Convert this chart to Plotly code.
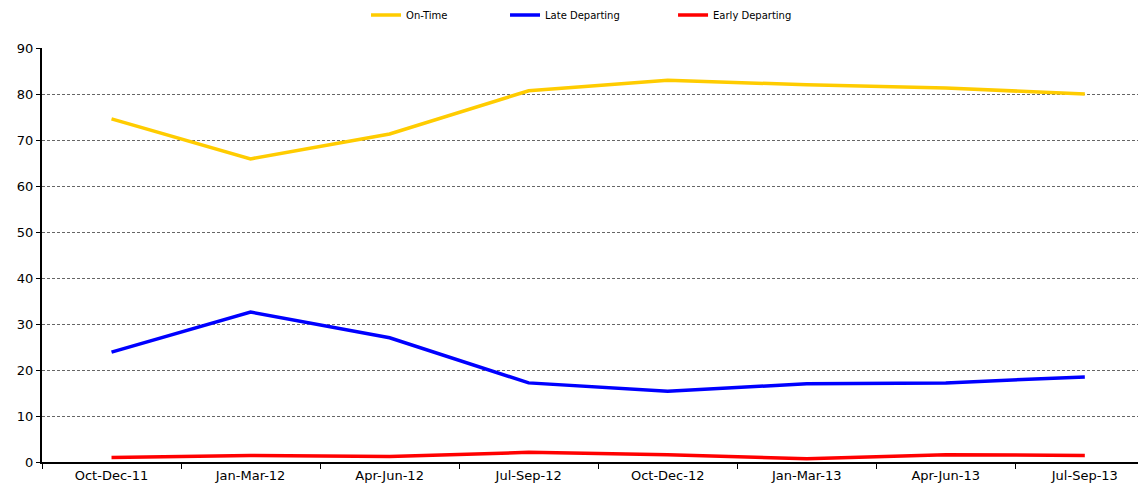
import plotly.graph_objects as go

categories = ["Oct-Dec-11", "Jan-Mar-12", "Apr-Jun-12", "Jul-Sep-12",
              "Oct-Dec-12", "Jan-Mar-13", "Apr-Jun-13", "Jul-Sep-13"]
on_time = [74.6, 65.9, 71.3, 80.7, 83.0, 82.0, 81.3, 80.0]
late_departing = [23.9, 32.6, 27.0, 17.2, 15.4, 17.0, 17.2, 18.5]
early_departing = [1.0, 1.4, 1.2, 2.1, 1.6, 0.7, 1.6, 1.4]

series = [
    ("On-Time", on_time, "#FFCC00", "legend", 0.2935),
    ("Late Departing", late_departing, "#0000FF", "legend2", 0.4194),
    ("Early Departing", early_departing, "#FF0000", "legend3", 0.5716),
]

fig = go.Figure()
legend_cfg = {}
for name, vals, color, leg, lx in series:
    fig.add_trace(go.Scatter(x=list(range(len(categories))), y=vals, name=name,
                             mode="lines", line=dict(color=color, width=3.5), legend=leg))
    legend_cfg[leg] = dict(orientation="h", x=lx, xanchor="left", y=1.08, yanchor="middle",
                           font=dict(size=10, family="DejaVu Sans, sans-serif"),
                           itemwidth=30, bgcolor="rgba(0,0,0,0)")

# page body has an 8px default margin; compensate
fig.update_layout(
    width=1138, height=478,
    margin=dict(l=34, r=0, t=40, b=24, autoexpand=False),
    paper_bgcolor="white", plot_bgcolor="white",
    font=dict(family="DejaVu Sans, sans-serif", color="#000000", size=13),
    showlegend=True,
    **legend_cfg,
)

fig.update_xaxes(
    tickmode="array", tickvals=list(range(len(categories))), ticktext=categories,
    range=[-0.5, 7.44], showgrid=False, showline=True, linecolor="black", linewidth=2,
    ticks="", zeroline=False, automargin=False,
)
fig.update_xaxes(minor=dict(tickmode="array", tickvals=[i + 0.5 for i in range(-1, 8)],
                            ticks="outside", ticklen=5, tickcolor="black", tickwidth=1, showgrid=False))

fig.update_yaxes(
    range=[0, 90], dtick=10, showgrid=True, gridcolor="#666666", griddash="3px,2px", gridwidth=1,
    showline=True, linecolor="black", linewidth=2, ticks="outside", ticklen=4,
    tickcolor="black", zeroline=False, automargin=False,
)

fig.write_html("out.html")
